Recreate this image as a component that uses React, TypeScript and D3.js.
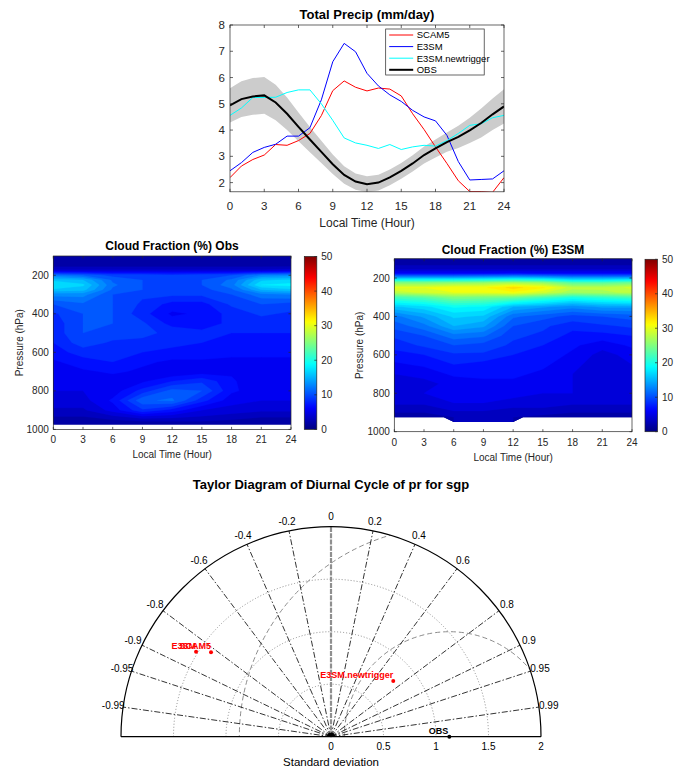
import React from "react";
import * as d3 from "d3";

// ---------- Total precipitation diurnal cycle ----------
const hours = [0, 1, 2, 3, 4, 5, 6, 7, 8, 9, 10, 11, 12, 13, 14, 15, 16, 17, 18, 19, 20, 21, 22, 23, 24];
const scam5 = [2.19, 2.63, 2.88, 3.05, 3.45, 3.42, 3.6, 3.87, 4.55, 5.5, 5.87, 5.63, 5.49, 5.6, 5.56, 5.3, 4.62, 4.02, 3.36, 2.73, 2.07, 1.66, 1.66, 1.63, 2.19];
const e3sm = [2.45, 2.76, 3.15, 3.34, 3.46, 3.77, 3.77, 4.09, 5.15, 6.6, 7.3, 6.98, 6.16, 5.68, 5.34, 5.09, 4.75, 4.5, 4.35, 3.8, 2.8, 2.1, 2.12, 2.14, 2.45];
const newtrigger = [4.56, 4.84, 5.24, 5.24, 5.25, 5.43, 5.53, 5.53, 5.0, 4.37, 3.7, 3.51, 3.42, 3.3, 3.45, 3.26, 3.36, 3.42, 3.39, 3.6, 3.87, 4.18, 4.24, 4.47, 4.56];
const obsPrecip = [4.94, 5.18, 5.28, 5.32, 5.05, 4.62, 4.12, 3.64, 3.17, 2.7, 2.29, 2.04, 1.94, 2.0, 2.2, 2.45, 2.73, 3.05, 3.3, 3.54, 3.74, 3.99, 4.27, 4.6, 4.9];
const obsSpread = [0.65, 0.68, 0.7, 0.7, 0.68, 0.62, 0.55, 0.48, 0.42, 0.37, 0.33, 0.31, 0.3, 0.3, 0.3, 0.3, 0.31, 0.32, 0.34, 0.37, 0.42, 0.48, 0.55, 0.6, 0.65];
const precipXTicks = [0, 3, 6, 9, 12, 15, 18, 21, 24];
const precipYTicks = [2, 3, 4, 5, 6, 7, 8];
const seriesNames = ["SCAM5", "E3SM", "E3SM.newtrigger", "OBS"];
const seriesColors = ["#ff0000", "#0000ff", "#00ffff", "#000000"];

// ---------- Cloud fraction (%) by hour and pressure ----------
const cfHours = [0, 3, 6, 9, 12, 15, 18, 21, 24];
const obsLevels = [100, 150, 175, 200, 225, 250, 275, 300, 350, 400, 450, 500, 550, 600, 650, 700, 750, 800, 850, 900, 950, 975];
const obsCloud = [
  [1.5, 1.5, 1.5, 1.5, 1.5, 1.5, 1.5, 1.5, 1.5],
  [2, 2, 2, 2, 2, 2, 2, 2, 2],
  [4, 4, 4, 4, 4, 4, 4, 4, 4.5],
  [12, 11, 9.5, 9.5, 9, 9.5, 10, 12.5, 13],
  [16, 15, 11, 10, 9.5, 10, 11.5, 16, 16.5],
  [17.5, 16.5, 11.5, 10, 9.5, 10, 12, 17.5, 18],
  [16, 15.5, 11, 10, 9.5, 9.5, 11, 15, 16],
  [13, 13, 10, 9, 9, 9, 10, 12, 12.5],
  [10, 11, 10, 8.5, 7, 7, 9, 10, 9.5],
  [8.5, 10, 10, 8, 6, 6.5, 8, 9, 8.5],
  [8, 10, 10, 9, 7, 6.5, 8, 8, 8],
  [8, 10, 9.5, 9, 8.5, 8, 7.5, 7.5, 7.5],
  [7.5, 9.5, 8.5, 8.5, 8, 7.5, 7, 7, 7],
  [7, 8, 8, 7.5, 7, 7, 6.5, 6.5, 6.5],
  [6, 7, 7.5, 6.5, 6, 6, 6, 6, 6],
  [5.5, 6, 6.5, 6, 5, 5.5, 6, 5, 5.5],
  [5, 5.5, 5.5, 6, 7.5, 8.5, 6.5, 5, 5.5],
  [5, 5, 5.5, 8, 10.5, 10, 6.5, 5.5, 6],
  [4.5, 4.5, 6.5, 11, 11.5, 8, 5.5, 5, 5],
  [3.5, 3.5, 5.5, 8.5, 7, 5, 4.5, 4, 4],
  [2, 2, 2.5, 3, 3, 3, 2.5, 2, 2],
  [1.5, 1.5, 1.5, 1.5, 1.5, 1.5, 1.5, 1.5, 1.5],
];
const e3smLevels = [100, 150, 175, 200, 225, 250, 275, 300, 350, 400, 450, 500, 550, 600, 650, 700, 750, 800, 850, 900, 925, 950];
const e3smCloud = [
  [1.5, 1.5, 1.5, 1.5, 1.5, 1.5, 1.5, 1.5, 1.5],
  [3, 3, 3, 3, 3, 3, 3, 3, 3],
  [6, 6, 6, 6, 6.5, 6, 6, 6, 6],
  [15, 15, 15, 15.5, 16, 15.5, 14, 14, 14.5],
  [25, 25, 25.5, 26, 27, 26, 23, 23, 24],
  [30, 30, 31, 31, 33, 31.5, 28, 28, 29],
  [28, 29, 30, 30, 31, 29, 26.5, 27, 28],
  [22, 23, 25, 24.5, 24, 22, 20, 21, 22],
  [16, 17, 19, 18.5, 15, 14, 13, 14, 14],
  [12, 14, 16.5, 16, 11.5, 10.5, 9.5, 10, 10.5],
  [10.5, 12, 15, 14, 10, 9, 8, 8.5, 9],
  [9, 10, 12, 11.5, 9, 8.5, 7, 7, 7.5],
  [8, 9, 10, 9.5, 8.5, 7.5, 6.5, 5.5, 6.5],
  [7, 7.5, 8.5, 8.5, 7.5, 7, 6, 4.5, 5.5],
  [6, 6.5, 7.5, 7, 7, 6.5, 5.5, 4, 5],
  [5, 5.5, 6.5, 6.5, 6.5, 6, 5, 4, 4.5],
  [4.5, 4.5, 5.5, 6, 6, 5.5, 5, 4.5, 4.5],
  [4.5, 5, 5.5, 5.5, 5.5, 5, 5, 4.5, 4.5],
  [4, 4, 5, 5, 4.5, 4.5, 4, 4, 4],
  [2.5, 2.5, 3.5, 3.5, 3, 3, 2.5, 2.5, 2.5],
  [2, 2, 2.5, 2.5, 2.5, 2, 2, 2, 2],
  [2, 2, 2.5, 2.5, 2.5, 2, 2, 2, 2],
];
// lowest level with valid model data, by hour
const e3smBottomHours = [0, 5, 6, 12, 13, 24];
const e3smBottomP = [925, 925, 950, 950, 925, 925];
const obsBottomP = 975;
const pressureTicks = [200, 400, 600, 800, 1000];
const colorTicks = [0, 10, 20, 30, 40, 50];

// ---------- Taylor diagram ----------
const taylorNames = ["SCAM5", "E3SM", "E3SM.newtrigger"];
const taylorStd = [1.397, 1.519, 0.796];
const taylorCorr = [-0.818, -0.846, 0.745];
const obsStd = 1.127;
const corrTicks = [-0.99, -0.95, -0.9, -0.8, -0.6, -0.4, -0.2, 0, 0.2, 0.4, 0.6, 0.8, 0.9, 0.95, 0.99];
const stdTicks = [0, 0.5, 1, 1.5, 2];
const stdArcs = [0.5, 1, 1.5];
const rmsArcs = [1, 2];

const FONT = "'Liberation Sans', Arial, Helvetica, sans-serif";
const AX = "#262626";

function jet(t: number) {
  const c = (v: number) => Math.max(0, Math.min(1, v));
  const tt = c(t);
  const r = c(1.5 - Math.abs(4 * tt - 3));
  const g = c(1.5 - Math.abs(4 * tt - 2));
  const b = c(1.5 - Math.abs(4 * tt - 1));
  return d3.rgb(r * 255, g * 255, b * 255).formatHex();
}

function PrecipPanel() {
  const x = d3.scaleLinear().domain([0, 24]).range([230, 504]);
  const y = d3.scaleLinear().domain([1.65, 8]).range([191.8, 25]);
  const [x0, x1] = x.range();
  const [yb, yt] = y.range();
  const line = (vals: number[]) =>
    d3.line<number>().x((_, i) => x(hours[i])).y((v) => y(v))(vals) || "";
  const band =
    d3
      .area<number>()
      .x((_, i) => x(hours[i]))
      .y0((v, i) => y(v - obsSpread[i]))
      .y1((v, i) => y(v + obsSpread[i]))(obsPrecip) || "";
  const series = [scam5, e3sm, newtrigger];
  const lx = 385.7, ly = 29, lw = 98.5, lh = 46;
  return (
    <g fontFamily={FONT}>
      <defs>
        <clipPath id="precipClip">
          <rect x={x0} y={yt} width={x1 - x0} height={yb - yt} />
        </clipPath>
      </defs>
      <rect x={x0} y={yt} width={x1 - x0} height={yb - yt} fill="#fff" />
      <g clipPath="url(#precipClip)">
        <path d={band} fill="#cccccc" stroke="none" />
        {series.map((s, i) => (
          <path key={i} d={line(s)} fill="none" stroke={seriesColors[i]} strokeWidth={1} />
        ))}
        <path d={line(obsPrecip)} fill="none" stroke="#000" strokeWidth={2} />
      </g>
      <rect x={x0} y={yt} width={x1 - x0} height={yb - yt} fill="none" stroke={AX} strokeWidth={0.7} />
      {precipXTicks.map((t) => (
        <g key={t}>
          <line x1={x(t)} x2={x(t)} y1={yb} y2={yb - 3} stroke={AX} strokeWidth={0.7} />
          <line x1={x(t)} x2={x(t)} y1={yt} y2={yt + 3} stroke={AX} strokeWidth={0.7} />
          <text x={x(t)} y={210} fontSize={11.5} textAnchor="middle" fill={AX}>
            {t}
          </text>
        </g>
      ))}
      {precipYTicks.map((t) => (
        <g key={t}>
          <line x1={x0} x2={x0 + 3} y1={y(t)} y2={y(t)} stroke={AX} strokeWidth={0.7} />
          <line x1={x1} x2={x1 - 3} y1={y(t)} y2={y(t)} stroke={AX} strokeWidth={0.7} />
          <text x={225} y={y(t)} dy="0.35em" fontSize={11.5} textAnchor="end" fill={AX}>
            {t}
          </text>
        </g>
      ))}
      <text x={(x0 + x1) / 2} y={226.5} fontSize={12} textAnchor="middle" fill={AX}>
        Local Time (Hour)
      </text>
      <text x={367} y={18.5} fontSize={13} fontWeight="bold" textAnchor="middle" fill="#000">
        Total Precip (mm/day)
      </text>
      {/* legend */}
      <rect x={lx} y={ly} width={lw} height={lh} fill="#fff" stroke={AX} strokeWidth={0.7} />
      {seriesNames.map((n, i) => {
        const yy = ly + 6 + i * 11.6;
        return (
          <g key={n}>
            <line x1={lx + 3.5} x2={lx + 27.5} y1={yy} y2={yy} stroke={seriesColors[i]} strokeWidth={i === 3 ? 2 : 1} />
            <text x={lx + 31} y={yy} dy="0.35em" fontSize={9.5} fill="#000">
              {n}
            </text>
          </g>
        );
      })}
    </g>
  );
}

type CloudProps = {
  id: string;
  title: string;
  titleX: number;
  titleY: number;
  values: number[][];
  levels: number[];
  xRange: [number, number];
  yRange: [number, number];
  bottomHours: number[];
  bottomP: number[];
  cbX: number;
  labelX: number;
};

function CloudPanel(p: CloudProps) {
  const x = d3.scaleLinear().domain([0, 24]).range(p.xRange);
  const y = d3.scaleLinear().domain([100, 1000]).range(p.yRange);
  const colIdx = d3.scaleLinear().domain(cfHours.map((_, i) => i)).range(cfHours);
  const rowIdx = d3.scaleLinear().domain(p.levels.map((_, i) => i)).range(p.levels);
  const nx = cfHours.length;
  const ny = p.levels.length;
  const flat: number[] = [];
  for (let j = 0; j < ny; j++) for (let i = 0; i < nx; i++) flat.push(p.values[j][i]);
  const step = 1.25;
  const thresholds = d3.range(0, 50, step);
  const contours = d3.contours().size([nx, ny]).thresholds(thresholds)(flat);
  const proj = d3.geoTransform({
    point: function (this: any, gx: number, gy: number) {
      this.stream.point(x(colIdx(gx - 0.5)), y(rowIdx(gy - 0.5)));
    },
  });
  const path = d3.geoPath(proj);
  const [x0, x1] = p.xRange;
  const [yt, yb] = p.yRange;
  const clipPts: [number, number][] = [
    [x(0), y(100)],
    [x(24), y(100)],
  ];
  for (let i = p.bottomHours.length - 1; i >= 0; i--) clipPts.push([x(p.bottomHours[i]), y(p.bottomP[i])]);
  const cbTop = yt + 0.5;
  const cbBot = yb;
  const cbScale = d3.scaleLinear().domain([0, 50]).range([cbBot, cbTop]);
  const gradStops = d3.range(0, 1.0001, 0.02);
  return (
    <g fontFamily={FONT}>
      <defs>
        <clipPath id={p.id + "Clip"}>
          <polygon points={clipPts.map((q) => q.join(",")).join(" ")} />
        </clipPath>
        <linearGradient id={p.id + "Grad"} x1="0" y1="1" x2="0" y2="0">
          {gradStops.map((s) => (
            <stop key={s} offset={s} stopColor={jet(s)} />
          ))}
        </linearGradient>
      </defs>
      <rect x={x0} y={yt} width={x1 - x0} height={yb - yt} fill="#fff" />
      <g clipPath={`url(#${p.id}Clip)`}>
        {contours.map((c, i) => (
          <path key={i} d={path(c as any) || ""} fill={jet((c.value + step / 2) / 50)} stroke={jet((c.value + step / 2) / 50)} strokeWidth={0.3} />
        ))}
      </g>
      <rect x={x0} y={yt} width={x1 - x0} height={yb - yt} fill="none" stroke={AX} strokeWidth={0.7} />
      {precipXTicks.map((t) => (
        <g key={t}>
          <line x1={x(t)} x2={x(t)} y1={yb} y2={yb - 2.5} stroke={AX} strokeWidth={0.7} />
          <line x1={x(t)} x2={x(t)} y1={yt} y2={yt + 2.5} stroke={AX} strokeWidth={0.7} />
          <text x={x(t)} y={yb + 14} fontSize={10} textAnchor="middle" fill={AX}>
            {t}
          </text>
        </g>
      ))}
      {pressureTicks.map((t) => (
        <g key={t}>
          <line x1={x0} x2={x0 + 2.5} y1={y(t)} y2={y(t)} stroke={AX} strokeWidth={0.7} />
          <line x1={x1} x2={x1 - 2.5} y1={y(t)} y2={y(t)} stroke={AX} strokeWidth={0.7} />
          <text x={x0 - 4.5} y={y(t)} dy="0.35em" fontSize={10} textAnchor="end" fill={AX}>
            {t}
          </text>
        </g>
      ))}
      <text x={(x0 + x1) / 2} y={yb + 29} fontSize={10} textAnchor="middle" fill={AX}>
        Local Time (Hour)
      </text>
      <text
        transform={`translate(${p.labelX},${(yt + yb) / 2}) rotate(-90)`}
        fontSize={10}
        textAnchor="middle"
        fill={AX}
      >
        Pressure (hPa)
      </text>
      <text x={p.titleX} y={p.titleY} fontSize={12} fontWeight="bold" textAnchor="middle" fill="#000">
        {p.title}
      </text>
      {/* colour bar */}
      <rect x={p.cbX} y={cbTop} width={12.5} height={cbBot - cbTop} fill={`url(#${p.id}Grad)`} stroke={AX} strokeWidth={0.7} />
      {colorTicks.map((t) => (
        <g key={t}>
          <line x1={p.cbX + 12.5} x2={p.cbX + 10} y1={cbScale(t)} y2={cbScale(t)} stroke={AX} strokeWidth={0.7} />
          <text x={p.cbX + 17} y={cbScale(t)} dy="0.35em" fontSize={10} fill={AX}>
            {t}
          </text>
        </g>
      ))}
    </g>
  );
}

function TaylorPanel() {
  const ox = 331;
  const oy = 736.7;
  const r = d3.scaleLinear().domain([0, 2]).range([0, 210]);
  const R = r(2);
  const pt = (s: number, c: number): [number, number] => {
    const th = Math.acos(c);
    return [ox + r(s) * Math.cos(th), oy - r(s) * Math.sin(th)];
  };
  const semi = `M${ox - R},${oy} A${R},${R} 0 0 1 ${ox + R},${oy} Z`;
  const obsX = ox + r(obsStd);
  return (
    <g fontFamily={FONT}>
      <defs>
        <clipPath id="taylorClip">
          <path d={semi} />
        </clipPath>
      </defs>
      <text x={331} y={489} fontSize={13} fontWeight="bold" textAnchor="middle" fill="#000">
        Taylor Diagram of Diurnal Cycle of pr for sgp
      </text>
      {/* standard deviation arcs */}
      {stdArcs.map((s) => (
        <path
          key={s}
          d={`M${ox - r(s)},${oy} A${r(s)},${r(s)} 0 0 1 ${ox + r(s)},${oy}`}
          fill="none"
          stroke="#8c8c8c"
          strokeWidth={1}
          strokeDasharray="1 2"
        />
      ))}
      {/* centred RMS difference arcs */}
      <g clipPath="url(#taylorClip)">
        {rmsArcs.map((s) => (
          <circle key={s} cx={obsX} cy={oy} r={r(s)} fill="none" stroke="#8c8c8c" strokeWidth={1} strokeDasharray="5 3" />
        ))}
      </g>
      {/* correlation rays */}
      {corrTicks.map((c) => {
        const [ex, ey] = pt(2, c);
        const [lx, ly] = pt(2.095, c);
        return (
          <g key={c}>
            {c === 0 ? (
              <line x1={ox} y1={oy} x2={ex} y2={ey} stroke="#8f8f8f" strokeWidth={2.2} strokeDasharray="5 1.2" />
            ) : (
              <line x1={ox} y1={oy} x2={ex} y2={ey} stroke="#000" strokeWidth={0.8} strokeDasharray="6 2 1.5 2" />
            )}
            <text x={lx} y={ly} dy="0.35em" fontSize={10} textAnchor="middle" fill="#000">
              {c}
            </text>
          </g>
        );
      })}
      <path d={`M${ox - R},${oy} A${R},${R} 0 0 1 ${ox + R},${oy}`} fill="none" stroke="#000" strokeWidth={1.2} />
      <line x1={ox - R} x2={ox + R} y1={oy} y2={oy} stroke="#000" strokeWidth={1.2} />
      <path d={`M${ox - 4},${oy} A4,4 0 0 1 ${ox + 4},${oy} Z`} fill="#000" />
      {stdTicks.map((s) => (
        <text key={s} x={ox + r(s)} y={750} fontSize={10} textAnchor="middle" fill="#000">
          {s}
        </text>
      ))}
      <text x={ox} y={766} fontSize={11.5} textAnchor="middle" fill="#000">
        Standard deviation
      </text>
      {/* model points */}
      {taylorNames.map((n, i) => {
        const [px, py] = pt(taylorStd[i], taylorCorr[i]);
        return (
          <g key={n}>
            <circle cx={px} cy={py} r={2} fill="#ff0000" />
            <text x={px} y={py - 3} fontSize={9} fontWeight="bold" textAnchor="end" fill="#ff0000">
              {n}
            </text>
          </g>
        );
      })}
      <circle cx={obsX} cy={oy} r={2} fill="#000" />
      <text x={obsX - 1} y={oy - 3} fontSize={9} fontWeight="bold" textAnchor="end" fill="#000">
        OBS
      </text>
    </g>
  );
}

export default function App() {
  return (
    <svg
      width={674}
      height={771}
      viewBox="0 0 674 771"
      style={{ position: "absolute", left: 0, top: 0, background: "#fff" }}
    >
      <rect width={674} height={771} fill="#fff" />
      <PrecipPanel />
      <CloudPanel
        id="cfObs"
        title="Cloud Fraction (%) Obs"
        titleX={172}
        titleY={250}
        values={obsCloud}
        levels={obsLevels}
        xRange={[53.3, 291]}
        yRange={[256, 429.4]}
        bottomHours={[0, 24]}
        bottomP={[obsBottomP, obsBottomP]}
        cbX={304.3}
        labelX={23}
      />
      <CloudPanel
        id="cfE3sm"
        title="Cloud Fraction (%) E3SM"
        titleX={513}
        titleY={253.5}
        values={e3smCloud}
        levels={e3smLevels}
        xRange={[394.3, 632]}
        yRange={[258.8, 431.7]}
        bottomHours={e3smBottomHours}
        bottomP={e3smBottomP}
        cbX={645}
        labelX={363}
      />
      <TaylorPanel />
    </svg>
  );
}
